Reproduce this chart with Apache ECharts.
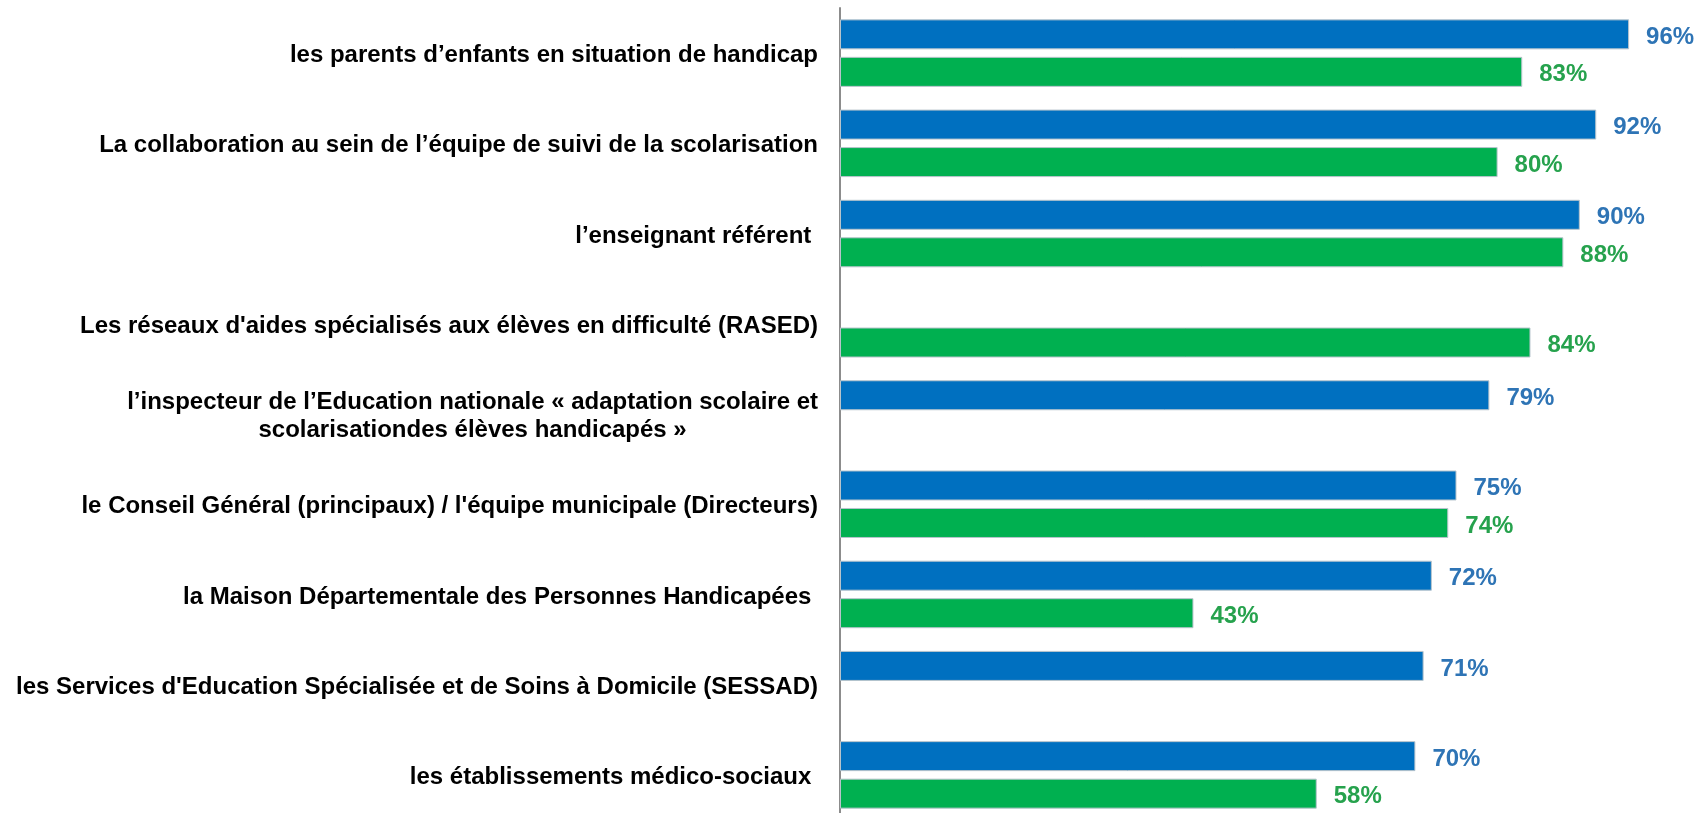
<!DOCTYPE html>
<html>
<head>
<meta charset="utf-8">
<script src="https://cdn.jsdelivr.net/npm/echarts@6/dist/echarts.min.js"></script>
<style>
  html, body { margin: 0; padding: 0; background: #fff; }
  #chart { width: 1707px; height: 813px; }
</style>
</head>
<body>
<div id="chart"></div>
<script>
const categories = [
  'les parents d’enfants en situation de handicap',
  'La collaboration au sein de l’équipe de suivi de la scolarisation',
  'l’enseignant référent ',
  'Les réseaux d\'aides spécialisés aux élèves en difficulté (RASED)',
  'l’inspecteur de l’Education nationale « adaptation scolaire et\nscolarisationdes élèves handicapés »',
  'le Conseil Général (principaux) / l\'équipe municipale (Directeurs)',
  'la Maison Départementale des Personnes Handicapées ',
  'les Services d\'Education Spécialisée et de Soins à Domicile (SESSAD)',
  'les établissements médico-sociaux '
];
const blueValues = [96, 92, 90, null, 79, 75, 72, 71, 70];
const greenValues = [83, 80, 88, 84, null, 74, 43, null, 58];

const chart = echarts.init(document.getElementById('chart'));
const font = 'Arial, "Liberation Sans", sans-serif';

function barSeries(name, data, color, labelColor) {
  return {
    name: name,
    type: 'bar',
    data: data,
    barWidth: 30,
    barGap: '25%',
    itemStyle: { color: color, borderColor: '#b8c4cc', borderWidth: 1 },
    label: {
      show: true,
      position: 'right',
      distance: 17,
      offset: [0, 3],
      formatter: p => p.value + '%',
      color: labelColor,
      fontFamily: font,
      fontWeight: 'bold',
      fontSize: 24
    }
  };
}

chart.setOption({
  backgroundColor: '#fff',
  animation: false,
  grid: { left: 840, top: 8, right: 45, bottom: -7, containLabel: false, outerBoundsMode: 'none' },
  xAxis: {
    type: 'value',
    min: 0,
    max: 100,
    show: false
  },
  yAxis: {
    type: 'category',
    data: categories,
    inverse: true,
    axisLine: { lineStyle: { color: '#8c8c8c', width: 2 } },
    axisTick: { show: false },
    axisLabel: {
      margin: 22,
      fontFamily: font,
      fontWeight: 'bold',
      fontSize: 24,
      color: '#000',
      lineHeight: 28,
      padding: [5, 0, 0, 0],
      formatter: v => v.split('\n').map(s => '{c|' + s + '}').join('\n'),
      rich: {
        c: { align: 'center', fontFamily: font, fontWeight: 'bold', fontSize: 24, color: '#000', lineHeight: 28 }
      }
    }
  },
  series: [
    barSeries('blue', blueValues, '#0070C0', '#2E74B5'),
    barSeries('green', greenValues, '#00B050', '#26A24D')
  ]
});
window.addEventListener('resize', () => chart.resize());
</script>
</body>
</html>
